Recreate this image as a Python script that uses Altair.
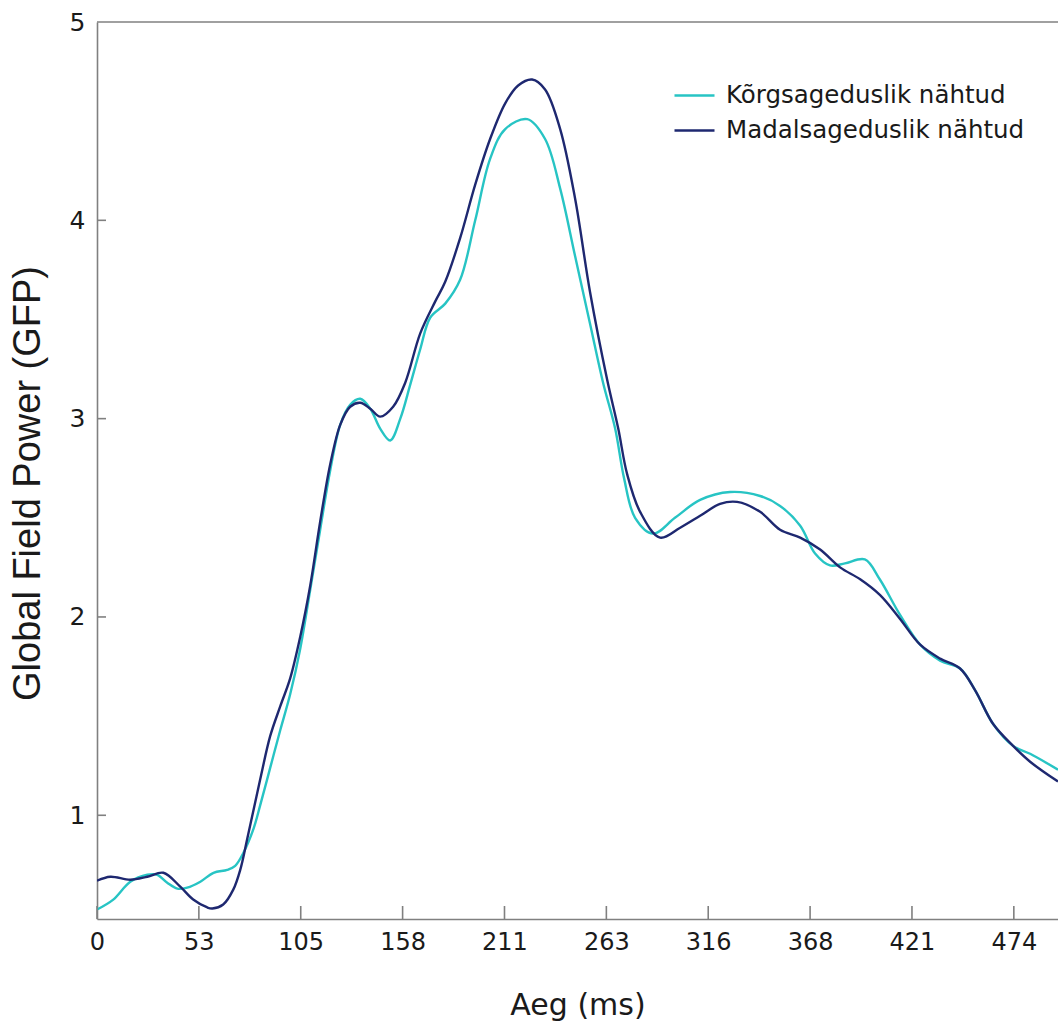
import altair as alt
import pandas as pd

# ---- data ----
hi_label = "Kõrgsageduslik nähtud"
lo_label = "Madalsageduslik nähtud"

hi_ms = [0, 8.4, 17.2, 26.0, 31.1, 36.3, 41.5, 46.6, 53.4, 60.2, 67.3, 71.4, 75.6, 80.8, 84.3,
         89.5, 94.7, 99.8, 105.0, 110.2, 115.3, 120.5, 125.7, 130.8, 136.0, 141.2, 146.3,
         151.5, 156.7, 161.8, 167.0, 172.2, 179.9, 187.6, 195.4, 203.1, 210.9, 222.3,
         231.5, 239.3, 247.0, 254.7, 261.5, 267.7, 272.3, 278.0, 287.3, 298.6, 311.6,
         327.1, 342.6, 352.9, 363.3, 371.0, 378.7, 386.4, 396.7, 404.4, 414.9, 425.3,
         435.6, 445.9, 453.7, 463.0, 473.3, 482.1, 496.5]
hi_gfp = [0.525, 0.575, 0.665, 0.70, 0.70, 0.66, 0.63, 0.635, 0.665, 0.71, 0.725, 0.745, 0.81, 0.93, 1.05,
          1.24, 1.43, 1.61, 1.84, 2.14, 2.44, 2.74, 2.97, 3.07, 3.10, 3.05, 2.95,
          2.89, 3.00, 3.17, 3.35, 3.51, 3.58, 3.70, 4.00, 4.31, 4.46, 4.51,
          4.41, 4.16, 3.82, 3.48, 3.18, 2.95, 2.70, 2.50, 2.42, 2.50, 2.59,
          2.63, 2.61, 2.56, 2.46, 2.32, 2.26, 2.27, 2.29, 2.19, 2.01, 1.86,
          1.78, 1.74, 1.63, 1.46, 1.35, 1.31, 1.23]

lo_ms = [0, 6.9, 17.2, 26.0, 34.3, 43.0, 49.7, 57.0, 59.6, 65.2, 70.4, 74.0, 77.6, 84.3, 89.5,
         94.7, 99.8, 105.0, 110.2, 115.3, 120.5, 125.7, 130.8, 136.0, 141.2, 146.3, 153.0,
         159.2, 167.0, 174.7, 179.9, 187.6, 195.4, 203.1, 210.9, 217.6, 224.8, 231.5,
         239.3, 247.0, 254.7, 263.5, 269.3, 273.9, 280.6, 290.9, 301.3, 311.6, 321.9,
         330.7, 342.6, 352.9, 363.3, 373.6, 383.9, 394.3, 404.6, 414.9, 425.3, 435.6,
         445.9, 453.7, 463.0, 473.3, 482.1, 496.5]
lo_gfp = [0.67, 0.69, 0.675, 0.69, 0.71, 0.64, 0.575, 0.535, 0.53, 0.55, 0.625, 0.725, 0.88, 1.18, 1.40,
          1.55, 1.69, 1.90, 2.16, 2.48, 2.77, 2.97, 3.06, 3.08, 3.05, 3.01, 3.06,
          3.18, 3.43, 3.59, 3.69, 3.91, 4.18, 4.41, 4.59, 4.68, 4.71, 4.66,
          4.46, 4.11, 3.64, 3.20, 2.95, 2.72, 2.53, 2.40, 2.45, 2.51, 2.57,
          2.58, 2.53, 2.44, 2.40, 2.34, 2.25, 2.19, 2.11, 1.99, 1.86, 1.79,
          1.74, 1.63, 1.46, 1.35, 1.27, 1.17]

x_tick_values = [0, 52.63, 105.26, 157.89, 210.53, 263.16, 315.79, 368.42, 421.05, 473.68]
y_tick_values = [1, 2, 3, 4, 5]
y_inner_ticks = [1, 2, 3, 4]

series_colors = ["#27C4C4", "#1E2870"]

# ---- tables ----
df = pd.concat([
    pd.DataFrame({"ms": hi_ms, "gfp": hi_gfp, "series": hi_label}),
    pd.DataFrame({"ms": lo_ms, "gfp": lo_gfp, "series": lo_label}),
], ignore_index=True)
df["order"] = range(len(df))

xt = pd.DataFrame({"ms": x_tick_values})
yt = pd.DataFrame({"gfp": y_inner_ticks})
one = pd.DataFrame({"k": [0]})

W, H = 961, 897
XDOM = [0, 496.5]
YDOM = [0.477, 5]
AXIS_GRAY = "#808080"
TXT = "#1a1a1a"
X_TITLE = "Aeg (ms)"
Y_TITLE = "Global Field Power (GFP)"

xscale = alt.Scale(domain=XDOM, nice=False, zero=False)
yscale = alt.Scale(domain=YDOM, nice=False, zero=False)

x_axis = alt.Axis(
    title=X_TITLE, values=x_tick_values, labelExpr="format(round(datum.value), 'd')",
    ticks=False, grid=False, labelFlush=False, labelPadding=11,
    labelFont="DejaVu Sans", labelFontSize=24, labelColor=TXT,
    domainColor=AXIS_GRAY, domainWidth=1.6,
    titleFont="DejaVu Sans", titleFontSize=30, titleFontWeight="normal", titleColor=TXT,
    titleBaseline="alphabetic", titleY=95)
y_axis = alt.Axis(
    title=Y_TITLE, values=y_tick_values, format="d",
    ticks=False, grid=False, labelPadding=12,
    labelFont="DejaVu Sans", labelFontSize=25, labelColor=TXT,
    domainColor=AXIS_GRAY, domainWidth=1.6,
    titleFont="Liberation Sans", titleFontSize=38, titleFontWeight="normal", titleColor=TXT,
    titleAngle=270, titleX=-69, titleY=461, titleAlign="center", titleBaseline="middle")

lines = alt.Chart(df).mark_line(strokeWidth=2.4, interpolate="catmull-rom", clip=True).encode(
    x=alt.X("ms:Q", scale=xscale, axis=x_axis),
    y=alt.Y("gfp:Q", scale=yscale, axis=y_axis),
    color=alt.Color("series:N", scale=alt.Scale(domain=[hi_label, lo_label], range=series_colors),
                    legend=alt.Legend(orient="none", legendX=576, legendY=52, title=None,
                                      symbolType="stroke", symbolSize=1600, symbolStrokeWidth=2.6,
                                      labelFont="DejaVu Sans", labelFontSize=24.5, labelColor=TXT,
                                      labelOffset=10, rowPadding=2, padding=0, labelLimit=500)),
    order="order:Q",
)

xticks = alt.Chart(xt).mark_rule(color=AXIS_GRAY, strokeWidth=1.6).encode(
    x=alt.X("ms:Q", scale=xscale, title=X_TITLE),
    y=alt.value(H), y2=alt.value(H - 13),
)

yticks = alt.Chart(yt).mark_rule(color=AXIS_GRAY, strokeWidth=1.6).encode(
    y=alt.Y("gfp:Q", scale=yscale, title=Y_TITLE),
    x=alt.value(0), x2=alt.value(9),
)

top_border = alt.Chart(one).mark_rule(color=AXIS_GRAY, strokeWidth=1.6).encode(
    x=alt.value(0), x2=alt.value(W), y=alt.value(0),
)

chart = alt.layer(lines, xticks, yticks, top_border).properties(
    width=W, height=H,
    autosize=alt.AutoSizeParams(type="none"),
    padding={"left": 97, "top": 22, "right": 0, "bottom": 104},
    background="white",
).configure_view(stroke=None)

chart.save("out.html", embed_options={"renderer": "svg", "actions": False})
